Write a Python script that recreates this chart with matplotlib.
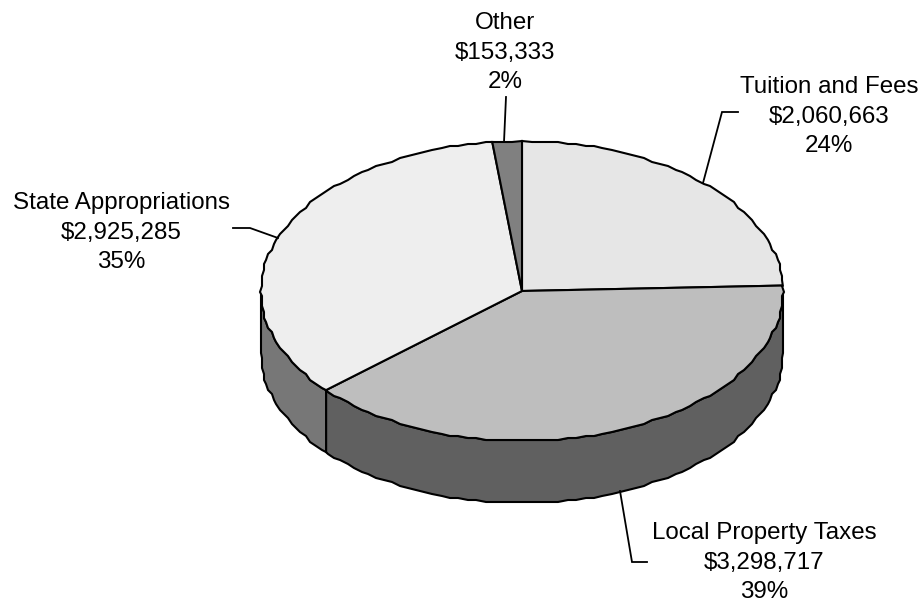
import numpy as np
import matplotlib
matplotlib.use("Agg")
import matplotlib.pyplot as plt
from matplotlib.patches import Polygon

plt.rcParams['font.family'] = ['Liberation Sans', 'DejaVu Sans']

# revenue sources, clockwise from twelve o'clock
categories = ["Tuition and Fees", "Local Property Taxes", "State Appropriations", "Other"]
amounts = [2060663, 3298717, 2925285, 153333]
percents = ["24%", "39%", "35%", "2%"]
top_colors = ["#e6e6e6", "#bebebe", "#eeeeee", "#808080"]
side_colors = ["#737373", "#606060", "#777777", "#404040"]

cx, cy = 522, 291
rx, ry = 261, 150
depth = 62
edge = "black"
lw = 1.5
step = 2  # rim is stepped a little, like a low resolution plot

fig = plt.figure(figsize=(9.21, 6.04), dpi=100)
ax = fig.add_axes([0, 0, 1, 1])
ax.set_xlim(0, 921)
ax.set_ylim(604, 0)
ax.axis("off")


def rim(a, b, drop=0):
    # points along the ellipse, angles in degrees clockwise from the top
    grid = np.arange(np.ceil(a / 2) * 2, b, 2.0)
    t = np.radians(np.concatenate([[a], grid[grid > a], [b]]))
    pts = np.column_stack([cx + rx * np.sin(t), cy - ry * np.cos(t)])
    pts[1:-1] = np.round(pts[1:-1] / step) * step
    pts[:, 1] += drop
    return pts


shares = np.array(amounts) / sum(amounts) * 360
stops = np.concatenate([[0], np.cumsum(shares)])

# side wall, only the front half of the disc shows (90 to 270 degrees)
for i in range(len(amounts)):
    a, b = max(stops[i], 90), min(stops[i + 1], 270)
    if a >= b:
        continue
    wall = np.vstack([rim(a, b), rim(a, b, depth)[::-1]])
    ax.add_patch(Polygon(wall, closed=True, fc=side_colors[i], ec=edge, lw=lw, zorder=1))

# top face
for i in range(len(amounts)):
    face = np.vstack([[[cx, cy]], rim(stops[i], stops[i + 1])])
    ax.add_patch(Polygon(face, closed=True, fc=top_colors[i], ec=edge, lw=lw, zorder=2))

# leader lines
leaders = [
    ([703, 722, 738], [183, 112, 112]),
    ([620, 632, 647], [491, 562, 562]),
    ([278, 250, 233], [238, 228, 228]),
    ([504, 506], [142, 97]),
]
for xs, ys in leaders:
    ax.plot(xs, ys, color=edge, lw=1.3, zorder=3, solid_joinstyle="miter")

# anchored on the baseline of the last line
label_pos = [(829, 152), (764, 598), (121.5, 268), (505, 88)]
for name, amount, pct, (x, y) in zip(categories, amounts, percents, label_pos):
    ax.text(x, y, f"{name}\n${amount:,}\n{pct}", ha="center", va="baseline",
            fontsize=17.4, linespacing=1.44, color="black")

fig.savefig("out.png", dpi=100)
